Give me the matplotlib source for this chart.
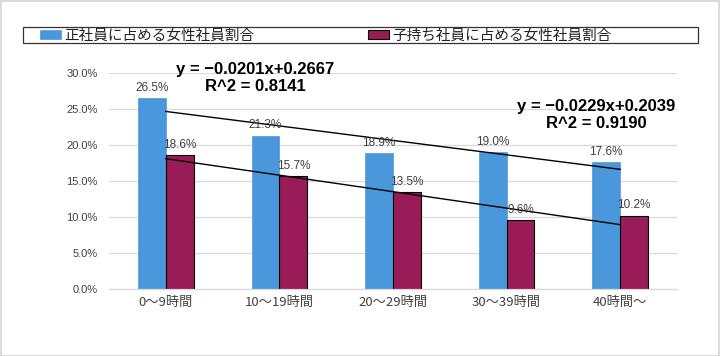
import matplotlib
matplotlib.use("Agg")
import matplotlib.pyplot as plt
from matplotlib.patches import Patch, Rectangle
import numpy as np

categories = ["0～9時間", "10～19時間", "20～29時間", "30～39時間", "40時間～"]
share_all = [0.265, 0.213, 0.189, 0.190, 0.176]
share_parents = [0.186, 0.157, 0.135, 0.096, 0.102]
series_names = ["正社員に占める女性社員割合", "子持ち社員に占める女性社員割合"]
# trendline coefficients as printed on the chart (x = 1..5)
fit_all = (-0.0201, 0.2667, 0.8141)
fit_parents = (-0.0229, 0.2039, 0.9190)
yticks = [0.0, 0.05, 0.10, 0.15, 0.20, 0.25, 0.30]

BLUE = "#4a97dc"
PURPLE = "#991c58"
GRAY = "#404040"
CJK = ["Noto Sans CJK JP", "DejaVu Sans"]

fig = plt.figure(figsize=(7.2, 3.56), dpi=100)
ax = fig.add_axes([109 / 720, 1 - 289 / 356, 568 / 720, 216 / 356])

x = np.arange(len(categories))
w = 0.245
b1 = ax.bar(x - w / 2, share_all, w, color=BLUE, edgecolor="#5b9fdf", linewidth=0.6, zorder=2)
b2 = ax.bar(x + w / 2, share_parents, w, color=PURPLE, edgecolor="black", linewidth=0.8, zorder=2)

for bars in (b1, b2):
    ax.bar_label(bars, labels=[f"{v * 100:.1f}%" for v in bars.datavalues], padding=3,
                 fontsize=8.5, color=GRAY, family="Liberation Sans", zorder=4)

# linear trendlines
xs = x + 1
for slope, icpt, _ in (fit_all, fit_parents):
    ax.plot(x, slope * xs + icpt, color="black", linewidth=1.0, zorder=3)

eq_kw = dict(fontsize=12, fontweight="bold", family="Liberation Sans", color="black",
             ha="center", va="center", transform=fig.transFigure, linespacing=1.15)
fig.text(255 / 720, 1 - 78 / 356,
         f"y = \u2212{abs(fit_all[0]):.4f}x+{fit_all[1]:.4f}\nR^2 = {fit_all[2]:.4f}", **eq_kw)
fig.text(596 / 720, 1 - 115 / 356,
         f"y = \u2212{abs(fit_parents[0]):.4f}x+{fit_parents[1]:.4f}\nR^2 = {fit_parents[2]:.4f}", **eq_kw)

ax.set_xlim(-0.5, len(categories) - 0.5)
ax.set_ylim(0, 0.30)
ax.set_yticks(yticks)
ax.set_yticklabels([f"{t * 100:.1f}%" for t in yticks], fontsize=8, color=GRAY, family="Liberation Sans")
ax.set_xticks(x)
ax.set_xticklabels(categories, fontsize=9.5, color=GRAY, family=CJK)
ax.tick_params(length=0, pad=8, axis="y")
ax.tick_params(length=0, pad=5, axis="x")
ax.grid(axis="y", color="#d9d9d9", linewidth=0.9, zorder=0)
ax.set_axisbelow(True)
for s in ("top", "right", "left"):
    ax.spines[s].set_visible(False)
ax.spines["bottom"].set_color("#d9d9d9")
ax.spines["bottom"].set_linewidth(0.9)

# legend: frame plus one entry per series
fig.patches.append(Rectangle((23 / 720, 1 - 43 / 356), 675 / 720, 16 / 356, transform=fig.transFigure,
                             fill=False, edgecolor="#333333", linewidth=0.9))
handles = [Patch(facecolor=BLUE, edgecolor="#5b9fdf", linewidth=0.6),
           Patch(facecolor=PURPLE, edgecolor="black", linewidth=0.8)]
for h, name, x0 in zip(handles, series_names, (40, 368)):
    leg = fig.legend([h], [name], loc="center left", bbox_to_anchor=(x0 / 720, 1 - 35.5 / 356),
                     prop={"family": CJK, "size": 10.5}, frameon=False, borderpad=0,
                     handlelength=1.45, handleheight=0.55, handletextpad=0.2,
                     borderaxespad=0, labelcolor="#222222")

fig.patches.append(Rectangle((0.5 / 720, 0.5 / 356), 718 / 720, 355 / 356, transform=fig.transFigure,
                             fill=False, edgecolor="#d4d4d4", linewidth=1.2))

fig.savefig("out.png", dpi=100)
